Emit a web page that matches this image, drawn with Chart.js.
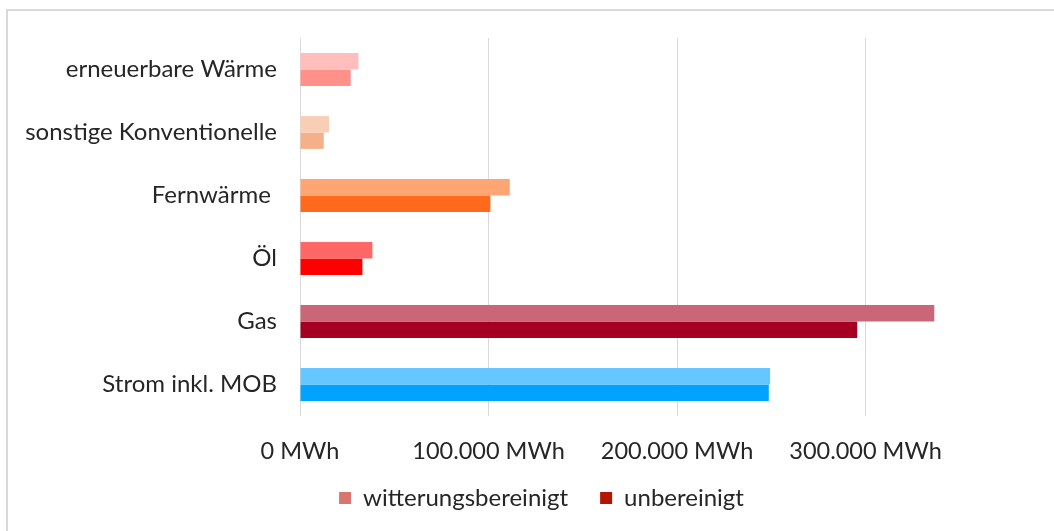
<!DOCTYPE html>
<html>
<head>
<meta charset="utf-8">
<script src="https://cdn.jsdelivr.net/npm/chart.js@4/dist/chart.umd.min.js"></script>
<style>
    body { margin: 0; background: #ffffff; }
    #wrap { position: relative; width: 1054px; height: 531px; }
    #frame {
        position: absolute; left: 6px; top: 9px; width: 1100px; height: 600px;
        border: 2px solid #d9d9d9; pointer-events: none;
    }
</style>
</head>
<body>
<div id="wrap">
    <canvas id="chart" width="1054" height="531"></canvas>
    <div id="frame"></div>
</div>
<script>
// categories, top to bottom
const categories = ['erneuerbare Wärme', 'sonstige Konventionelle', 'Fernwärme ', 'Öl', 'Gas', 'Strom inkl. MOB'];

// MWh values
const witterungsbereinigt = [31000, 15400, 111300, 38400, 336500, 249400];
const unbereinigt         = [26900, 12600, 101000, 33100, 295600, 248700];

const tickValues = [0, 100000, 200000, 300000];

// each category has its own colour pair
const colorsWitt = ['#ffbdbb', '#f8cfb5', '#ffa574', '#ff6666', '#c96677', '#66c6ff'];
const colorsUnb  = ['#ff908a', '#f4b088', '#ff6a1e', '#ff0000', '#a50021', '#00a3ff'];

const legendColors = ['#d9756f', '#b41500'];

const fontFamily = 'Lato, "Open Sans", sans-serif';
const textColor = '#262626';

//-----------------------------------------------------------------------------
// 100000 -> "100.000 MWh"
//-----------------------------------------------------------------------------
function formatMWh(value) {
    return String(value).replace(/\B(?=(\d{3})+(?!\d))/g, '.') + ' MWh';
}

//-----------------------------------------------------------------------------
// the legend needs a wide gap between items but not the tall box that the
// same padding gives, so shrink its height and move it after layout
//-----------------------------------------------------------------------------
const legendTweak = {
    id: 'legendTweak',
    beforeLayout(chart) {
        const legend = chart.legend;
        if (legend && !legend._tweaked) {
            const fit = legend.fit.bind(legend);
            legend.fit = function () {
                fit();
                this.height = 53;
            };
            legend._tweaked = true;
        }
    },
    afterLayout(chart) {
        const legend = chart.legend;
        if (legend) {
            legend.left = 29;
            legend.top = 454;
            legend.bottom = chart.height;
            legend.height = legend.bottom - legend.top;
        }
    }
};

const ctx = document.getElementById('chart').getContext('2d');
new Chart(ctx, {
    type: 'bar',
    data: {
        labels: categories,
        datasets: [
            {
                label: 'witterungsbereinigt',
                data: witterungsbereinigt,
                backgroundColor: colorsWitt,
                borderWidth: 0
            },
            {
                label: 'unbereinigt',
                data: unbereinigt,
                backgroundColor: colorsUnb,
                borderWidth: 0
            }
        ]
    },
    plugins: [legendTweak],
    options: {
        indexAxis: 'y',
        responsive: false,
        animation: false,
        devicePixelRatio: 1,
        categoryPercentage: 0.52,
        barPercentage: 1.0,
        layout: {
            padding: { left: 0, right: 0, top: 38, bottom: 0 }
        },
        plugins: {
            legend: {
                position: 'bottom',
                labels: {
                    color: textColor,
                    font: { family: fontFamily, size: 24 },
                    boxWidth: 12,
                    boxHeight: 12,
                    padding: 32,
                    // legend squares use a single colour per series
                    generateLabels: chart => chart.data.datasets.map((ds, i) => ({
                        text: ds.label,
                        fillStyle: legendColors[i],
                        strokeStyle: legendColors[i],
                        lineWidth: 0,
                        hidden: false,
                        datasetIndex: i,
                        fontColor: textColor
                    }))
                }
            },
            tooltip: { enabled: false }
        },
        scales: {
            x: {
                min: 0,
                max: 400000,
                afterBuildTicks: scale => {
                    scale.ticks = tickValues.map(v => ({ value: v }));
                },
                afterFit: scale => { scale.height = 62; },
                border: { display: false },
                grid: {
                    color: '#d9d9d9',
                    lineWidth: 1,
                    drawTicks: false
                },
                ticks: {
                    padding: 21,
                    color: textColor,
                    font: { family: fontFamily, size: 23.5 },
                    maxRotation: 0,
                    callback: value => formatMWh(value)
                }
            },
            y: {
                afterFit: scale => { scale.width = 300; },
                border: { display: false },
                grid: { display: false, drawTicks: false },
                ticks: {
                    padding: 23,
                    color: textColor,
                    font: { family: fontFamily, size: 24 }
                }
            }
        }
    }
});
</script>
</body>
</html>
